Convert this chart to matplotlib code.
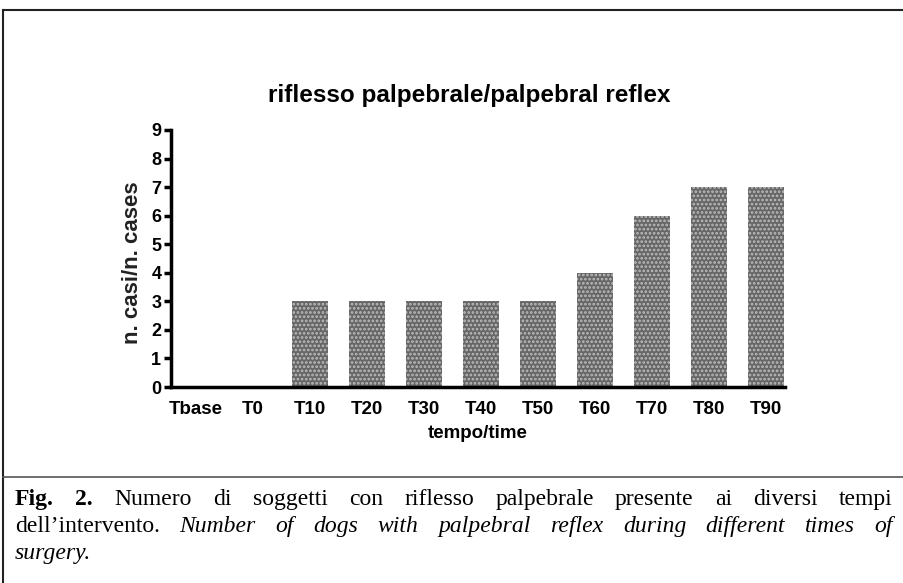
import matplotlib.pyplot as plt
from matplotlib.lines import Line2D

labels = ["Tbase", "T0", "T10", "T20", "T30", "T40", "T50", "T60", "T70", "T80", "T90"]
cases = [0, 0, 3, 3, 3, 3, 3, 4, 6, 7, 7]

caption_lines = [
    [("Fig.", "bold"), ("2.", "bold"), ("Numero", "normal"), ("di", "normal"), ("soggetti", "normal"),
     ("con", "normal"), ("riflesso", "normal"), ("palpebrale", "normal"), ("presente", "normal"),
     ("ai", "normal"), ("diversi", "normal"), ("tempi", "normal")],
    [("dell\u2019intervento.", "normal"), ("Number", "italic"), ("of", "italic"), ("dogs", "italic"),
     ("with", "italic"), ("palpebral", "italic"), ("reflex", "italic"), ("during", "italic"),
     ("different", "italic"), ("times", "italic"), ("of", "italic")],
    [("surgery.", "italic")],
]

plt.rcParams["font.family"] = "Liberation Sans"
plt.rcParams["hatch.linewidth"] = 1.3

W, H = 904, 583
fig = plt.figure(figsize=(W / 100, H / 100), dpi=100)
ax = fig.add_axes([171 / W, 1 - 387 / H, (785 - 171) / W, (387 - 130) / H])

x = list(range(len(labels)))
ax.bar(x, cases, width=0.63, color="#666666", edgecolor="#bdbdbd", hatch="....", linewidth=0)

ax.set_xlim(-0.44, 10.33)
ax.set_ylim(0, 9)
ax.set_yticks(range(10))
ax.set_xticks(x)
ax.set_xticklabels(labels)
for s in ["top", "right"]:
    ax.spines[s].set_visible(False)
for s in ["left", "bottom"]:
    ax.spines[s].set_linewidth(2.5)
ax.tick_params(axis="y", length=5, width=2.5, labelsize=13, pad=2)
ax.tick_params(axis="x", length=0, labelsize=13.5, pad=10)
for t in ax.get_xticklabels() + ax.get_yticklabels():
    t.set_fontweight("bold")
ax.set_xlabel("tempo/time", fontsize=13.5, fontweight="bold", labelpad=5)
fig.text(132 / W, 1 - 263 / H, "n. casi/n. cases", rotation=90, ha="center", va="center",
         fontsize=16, fontweight="bold", color="#222222")
fig.text(469 / W, 1 - 95 / H, "riflesso palpebrale/palpebral reflex", ha="center", va="center",
         fontsize=17.5, fontweight="bold")

# frame lines
fig.add_artist(Line2D([3 / W, 1], [1 - 10 / H, 1 - 10 / H], color="#222222", lw=1.5))
fig.add_artist(Line2D([3 / W, 3 / W], [1 - 10 / H, 0], color="#222222", lw=1.5))
fig.add_artist(Line2D([3 / W, 1], [1 - 477 / H, 1 - 477 / H], color="#555555", lw=1.2))

# justified caption
renderer = fig.canvas.get_renderer()
x0, x1 = 15, 893
baselines = [505, 532, 559]
for i, (line, yy) in enumerate(zip(caption_lines, baselines)):
    texts = []
    for word, style in line:
        weight = "bold" if style == "bold" else "normal"
        fstyle = "italic" if style == "italic" else "normal"
        t = fig.text(0, 1 - yy / H, word, ha="left", va="baseline", fontsize=17,
                     family="Liberation Serif", fontweight=weight, fontstyle=fstyle)
        texts.append(t)
    widths = [t.get_window_extent(renderer).width for t in texts]
    if i < len(caption_lines) - 1 and len(texts) > 1:
        gap = (x1 - x0 - sum(widths)) / (len(texts) - 1)
    else:
        gap = 4
    pos = x0
    for t, w in zip(texts, widths):
        t.set_x(pos / W)
        pos += w + gap

fig.savefig("out.png", dpi=100)
